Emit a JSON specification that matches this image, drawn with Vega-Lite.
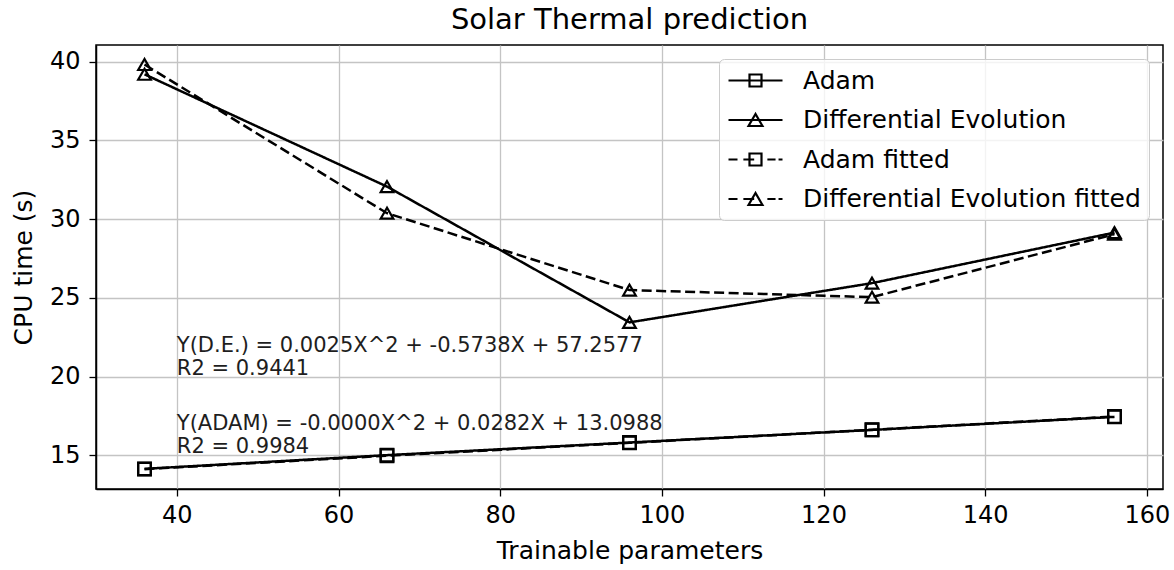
{
  "$schema": "https://vega.github.io/schema/vega-lite/v6.json",
  "width": 1067,
  "height": 444,
  "autosize": "none",
  "padding": {"left": 96, "top": 45, "right": 11, "bottom": 81},
  "background": "white",
  "title": {
    "text": "Solar Thermal prediction",
    "fontSize": 29,
    "fontWeight": "normal",
    "color": "black",
    "offset": 10,
    "anchor": "middle"
  },
  "config": {
    "font": "DejaVu Sans",
    "view": {"stroke": "black", "strokeWidth": 1.5},
    "axis": {
      "grid": true,
      "gridColor": "#c4c4c4",
      "gridWidth": 1.3,
      "domainColor": "black",
      "domainWidth": 1.5,
      "tickColor": "black",
      "tickSize": 7,
      "tickWidth": 1.3,
      "labelFontSize": 24,
      "labelColor": "black",
      "labelOverlap": false,
      "titleFontSize": 25,
      "titleFontWeight": "normal",
      "titleColor": "black",
      "titleBaseline": "alphabetic"
    },
    "legend": {
      "orient": "top-right",
      "offset": 14,
      "padding": 8,
      "rowPadding": 12.5,
      "symbolSize": 576,
      "symbolStrokeWidth": 2.2,
      "symbolStrokeColor": "black",
      "symbolOpacity": 1,
      "labelFontSize": 25,
      "labelColor": "black",
      "labelOffset": 49,
      "labelLimit": 600,
      "fillColor": "rgba(255,255,255,0.8)",
      "strokeColor": "#cccccc",
      "cornerRadius": 5
    }
  },
  "datasets": {
    "runs": [
      {"series": "Adam", "params": 36, "cpu": 14.15},
      {"series": "Adam", "params": 66, "cpu": 15.02},
      {"series": "Adam", "params": 96, "cpu": 15.82},
      {"series": "Adam", "params": 126, "cpu": 16.62},
      {"series": "Adam", "params": 156, "cpu": 17.45},
      {"series": "Differential Evolution", "params": 36, "cpu": 39.2},
      {"series": "Differential Evolution", "params": 66, "cpu": 32.07},
      {"series": "Differential Evolution", "params": 96, "cpu": 23.45},
      {"series": "Differential Evolution", "params": 126, "cpu": 25.94},
      {"series": "Differential Evolution", "params": 156, "cpu": 29.15},
      {"series": "Adam fitted", "params": 36, "cpu": 14.13},
      {"series": "Adam fitted", "params": 66, "cpu": 14.98},
      {"series": "Adam fitted", "params": 96, "cpu": 15.8},
      {"series": "Adam fitted", "params": 126, "cpu": 16.63},
      {"series": "Adam fitted", "params": 156, "cpu": 17.47},
      {"series": "Differential Evolution fitted", "params": 36, "cpu": 39.82},
      {"series": "Differential Evolution fitted", "params": 66, "cpu": 30.38},
      {"series": "Differential Evolution fitted", "params": 96, "cpu": 25.5},
      {"series": "Differential Evolution fitted", "params": 126, "cpu": 25.05},
      {"series": "Differential Evolution fitted", "params": 156, "cpu": 29.05}
    ],
    "notes": [
      {"params": 40, "cpu": 20, "note": "Y(D.E.) = 0.0025X^2 + -0.5738X + 57.2577\nR2 = 0.9441"},
      {"params": 40, "cpu": 15, "note": "Y(ADAM) = -0.0000X^2 + 0.0282X + 13.0988\nR2 = 0.9984"}
    ]
  },
  "resolve": {"scale": {"shape": "independent"}},
  "layer": [
    {
      "data": {"name": "runs"},
      "mark": {"type": "line", "color": "black", "strokeWidth": 2.5},
      "encoding": {
        "x": {
          "field": "params",
          "type": "quantitative",
          "scale": {"domain": [30, 162], "nice": false, "zero": false},
          "axis": {"title": "Trainable parameters", "values": [40, 60, 80, 100, 120, 140, 160], "labelPadding": 7, "titleY": 69}
        },
        "y": {
          "field": "cpu",
          "type": "quantitative",
          "scale": {"domain": [12.87, 41.06], "nice": false, "zero": false},
          "axis": {"title": "CPU time (s)", "values": [15, 20, 25, 30, 35, 40], "labelPadding": 9, "titleX": -65, "titleY": 222}
        },
        "strokeDash": {
          "field": "series",
          "type": "nominal",
          "scale": {
            "domain": ["Adam", "Differential Evolution", "Adam fitted", "Differential Evolution fitted"],
            "range": [[1, 0], [1, 0], [10, 4.5], [10, 4.5]]
          },
          "legend": null
        }
      }
    },
    {
      "data": {"name": "runs"},
      "mark": {"type": "point", "filled": false, "color": "black", "strokeWidth": 2.2, "opacity": 1},
      "encoding": {
        "x": {"field": "params", "type": "quantitative"},
        "y": {"field": "cpu", "type": "quantitative"},
        "shape": {
          "field": "series",
          "type": "nominal",
          "scale": {
            "domain": ["Adam", "Differential Evolution", "Adam fitted", "Differential Evolution fitted"],
            "range": ["square", "triangle-up", "square", "triangle-up"]
          },
          "legend": null
        },
        "size": {"value": 160}
      }
    },
    {
      "data": {"name": "runs"},
      "mark": {"type": "point", "filled": false, "color": "black", "strokeWidth": 2.2, "opacity": 0},
      "encoding": {
        "x": {"field": "params", "type": "quantitative"},
        "y": {"field": "cpu", "type": "quantitative"},
        "shape": {
          "field": "series",
          "type": "nominal",
          "title": null,
          "scale": {
            "domain": ["Adam", "Differential Evolution", "Adam fitted", "Differential Evolution fitted"],
            "range": [
              "M-1,0H3.5M0.75,-0.5H1.75V0.5H0.75Z",
              "M-1,0H3.5M1.25,-0.5L0.67,0.5H1.83Z",
              "M-1,0H-0.25M0.24,0H1.14M2.24,0H2.92M3.17,0H3.5M0.75,-0.5H1.75V0.5H0.75Z",
              "M-1,0H-0.25M0.24,0H1.14M2.24,0H2.92M3.17,0H3.5M1.25,-0.5L0.67,0.5H1.83Z"
            ]
          }
        }
      }
    },
    {
      "data": {"name": "notes"},
      "mark": {"type": "text", "align": "left", "baseline": "alphabetic", "dy": -25, "lineBreak": "\n", "fontSize": 21, "lineHeight": 23, "color": "#1e1e1e"},
      "encoding": {
        "x": {"field": "params", "type": "quantitative"},
        "y": {"field": "cpu", "type": "quantitative"},
        "text": {"field": "note", "type": "nominal"}
      }
    }
  ]
}
